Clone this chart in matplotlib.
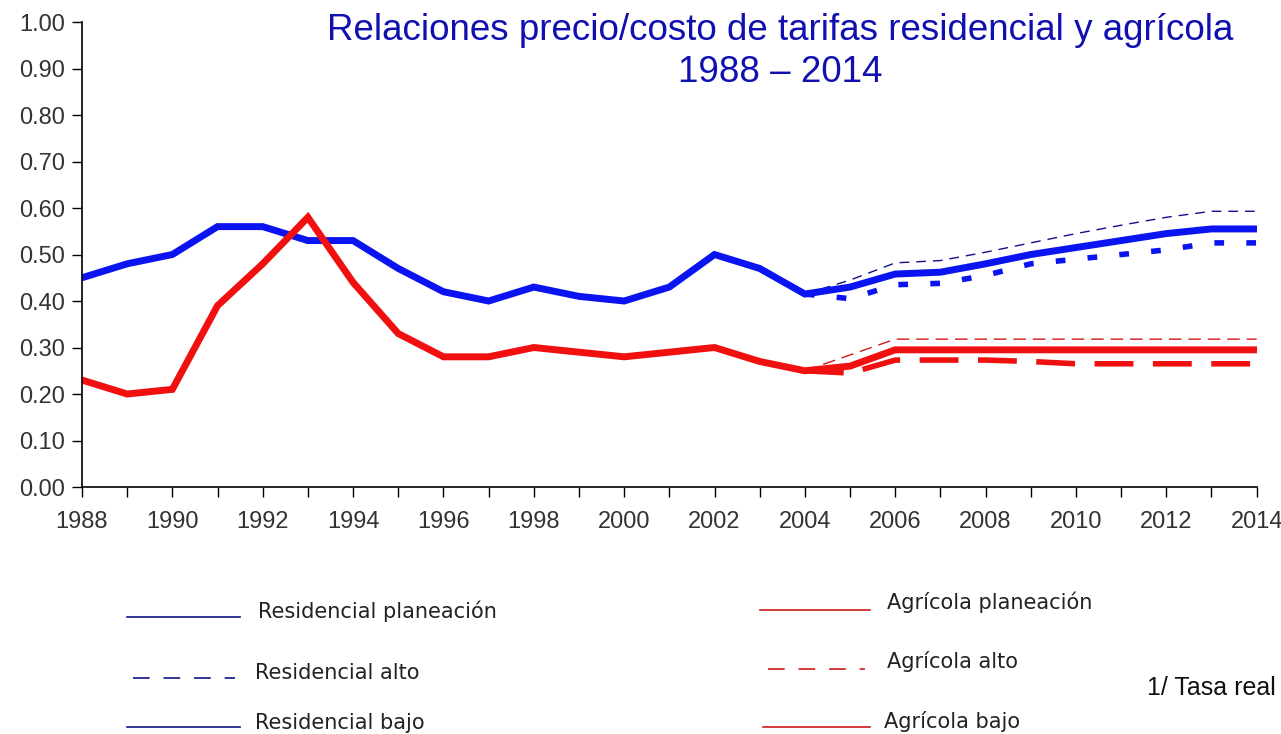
import matplotlib
matplotlib.use("Agg")
import matplotlib.pyplot as plt
from matplotlib.lines import Line2D

plt.rcParams['font.family'] = ['Liberation Sans', 'DejaVu Sans']
plt.rcParams['lines.scale_dashes'] = False

years = list(range(1988, 2015))
years_proj = list(range(2004, 2015))

res_plan = [0.45, 0.48, 0.50, 0.56, 0.56, 0.53, 0.53, 0.47, 0.42, 0.40, 0.43, 0.41, 0.40, 0.43,
            0.50, 0.47, 0.415, 0.43, 0.458, 0.462, 0.48, 0.50, 0.515, 0.53, 0.545, 0.555, 0.555]
res_alto = [0.415, 0.445, 0.482, 0.487, 0.505, 0.525, 0.545, 0.563, 0.58, 0.593, 0.593]
res_bajo = [0.415, 0.405, 0.435, 0.438, 0.455, 0.48, 0.49, 0.50, 0.51, 0.525, 0.525]

agr_plan = [0.23, 0.20, 0.21, 0.39, 0.48, 0.58, 0.44, 0.33, 0.28, 0.28, 0.30, 0.29, 0.28, 0.29,
            0.30, 0.27, 0.25, 0.26, 0.295, 0.295, 0.295, 0.295, 0.295, 0.295, 0.295, 0.295, 0.295]
agr_alto = [0.25, 0.284, 0.318, 0.318, 0.318, 0.318, 0.318, 0.318, 0.318, 0.318, 0.318]
agr_bajo = [0.25, 0.245, 0.273, 0.273, 0.273, 0.27, 0.265, 0.265, 0.265, 0.265, 0.265]

yticks = [0.0, 0.1, 0.2, 0.3, 0.4, 0.5, 0.6, 0.7, 0.8, 0.9, 1.0]
xtick_labels = list(range(1988, 2015, 2))

BLUE = '#0a14f0'
NAVY = '#10108a'
RED = '#f01010'
DRED = '#d01818'

fig = plt.figure(figsize=(12.81, 7.34), dpi=100)
ax = fig.add_axes([0.064, 0.3365, 0.917, 0.6335])

ax.plot(years_proj, res_alto, color=NAVY, lw=1.0, dashes=(7, 5))
ax.plot(years_proj, res_bajo, color=BLUE, lw=4.0, dashes=(7, 16))
ax.plot(years_proj, agr_alto, color=DRED, lw=1.0, dashes=(9, 5))
ax.plot(years_proj, agr_bajo, color=RED, lw=4.0, dashes=(28, 14))
ax.plot(years, res_plan, color=BLUE, lw=5.0, solid_joinstyle='miter')
ax.plot(years, agr_plan, color=RED, lw=5.0, solid_joinstyle='miter')

ax.set_xlim(1988, 2014)
ax.set_ylim(0, 1.0)
ax.set_yticks(yticks)
ax.set_yticklabels([f"{v:.2f}" for v in yticks])
ax.set_xticks(years)
ax.set_xticklabels([str(y) if y in xtick_labels else '' for y in years])
ax.tick_params(axis='both', direction='out', length=7, width=1.0, colors='black',
               labelsize=17, labelcolor='#333333')
ax.tick_params(axis='y', pad=5)
ax.tick_params(axis='x', pad=10)
ax.spines['top'].set_visible(False)
ax.spines['right'].set_visible(False)
ax.spines['left'].set_linewidth(1.2)
ax.spines['bottom'].set_linewidth(1.2)

fig.text(0.609, 0.982, "Relaciones precio/costo de tarifas residencial y agrícola\n1988 – 2014",
         ha='center', va='top', color='#1010b0', fontsize=26.5, linespacing=1.25)

# custom legend
def leg_line(x0, x1, y, color, dashes=None):
    ln = Line2D([x0 / 1281, x1 / 1281], [1 - y / 734, 1 - y / 734], color=color, lw=1.2,
                transform=fig.transFigure)
    if dashes:
        ln.set_dashes(dashes)
    fig.add_artist(ln)

leg_line(127, 240, 617, NAVY)
leg_line(133, 235, 678, NAVY, (12, 10))
leg_line(127, 240, 727, NAVY)
leg_line(760, 870, 610, DRED)
leg_line(768, 865, 669, DRED, (12, 10))
leg_line(763, 870, 727, DRED)

legtxt = dict(fontsize=15, color='#222222', va='center', ha='left', family=['DejaVu Sans'])
fig.text(258 / 1281, 1 - 611 / 734, "Residencial planeación", **legtxt)
fig.text(255 / 1281, 1 - 673 / 734, "Residencial alto", **legtxt)
fig.text(255 / 1281, 1 - 723 / 734, "Residencial bajo", **legtxt)
fig.text(887 / 1281, 1 - 602 / 734, "Agrícola planeación", **legtxt)
fig.text(887 / 1281, 1 - 662 / 734, "Agrícola alto", **legtxt)
fig.text(884 / 1281, 1 - 722 / 734, "Agrícola bajo", **legtxt)
fig.text(1276 / 1281, 1 - 688 / 734, "1/ Tasa real", fontsize=18, color='#111111',
         va='center', ha='right')

fig.savefig("out.png", dpi=100)
